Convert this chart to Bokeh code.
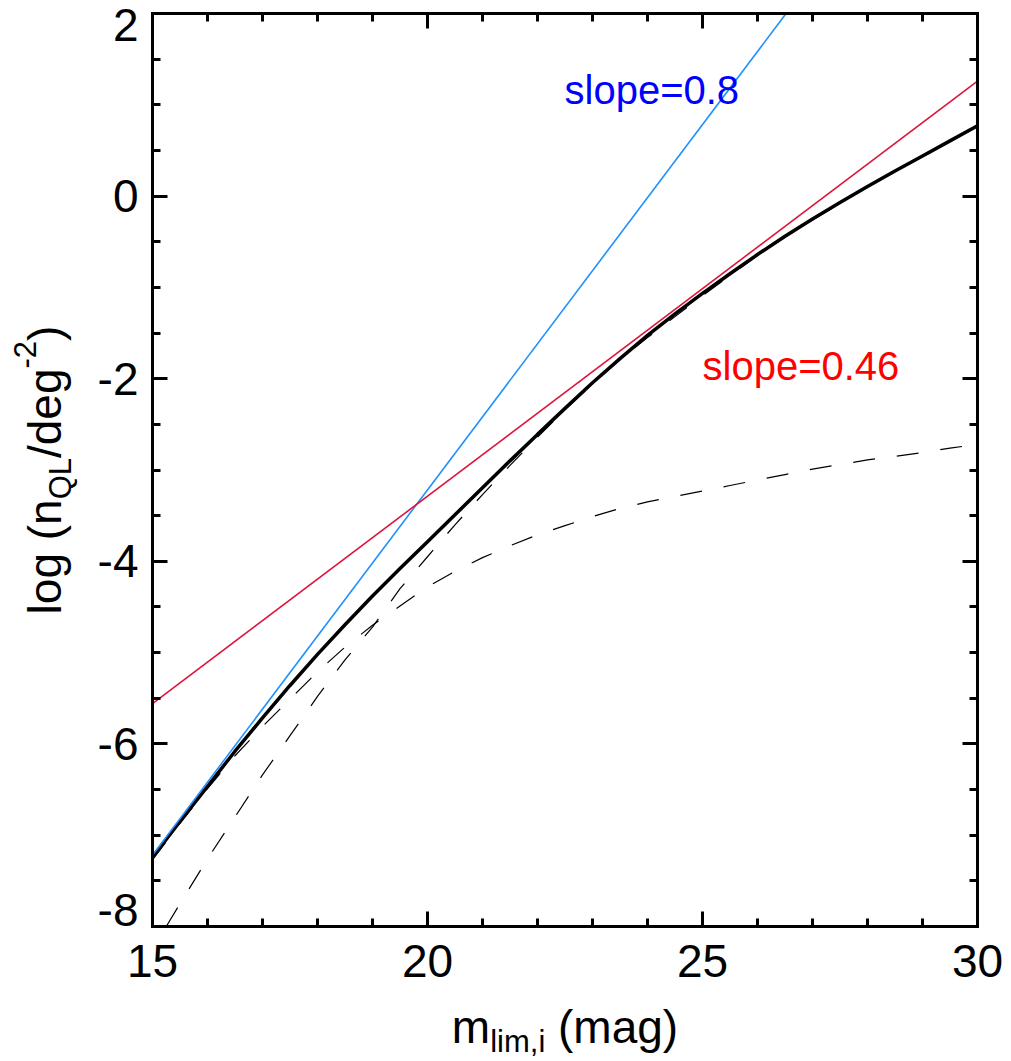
import math
from bokeh.plotting import figure
from bokeh.models import Range1d, SingleIntervalTicker, LinearAxis, Label, CustomJSTickFormatter
from bokeh.embed import file_html
from bokeh.resources import INLINE

# ---------------- data ----------------
m_total = [15.0, 15.5, 16.0, 16.5, 17.0, 17.5, 18.0, 18.5, 19.0, 19.5, 20.0,
           20.5, 21.0, 21.5, 22.0, 22.5, 23.0, 23.5, 24.0, 24.5, 25.0,
           25.5, 26.0, 26.5, 27.0, 27.5, 28.0, 28.5, 29.0, 29.5, 30.0]
logn_total = [-7.24, -6.85, -6.465, -6.08, -5.715, -5.36, -5.02, -4.695, -4.38, -4.08, -3.785,
              -3.49, -3.195, -2.90, -2.61, -2.325, -2.045, -1.78, -1.525, -1.29, -1.065,
              -0.85, -0.64, -0.44, -0.25, -0.07, 0.105, 0.275, 0.44, 0.605, 0.77]

m_comp1 = [15.25, 15.5, 16.0, 16.5, 17.0, 17.5, 18.0, 18.5, 19.0, 19.5, 20.0,
           20.5, 21.0, 21.5, 22.0, 22.5, 23.0, 23.5, 24.0, 24.5, 25.0,
           25.5, 26.0, 26.5, 27.0, 27.5, 28.0, 28.5, 29.0, 29.5, 30.0]
logn_comp1 = [-8.0, -7.75, -7.26, -6.80, -6.34, -5.91, -5.48, -5.08, -4.72, -4.30, -3.95,
              -3.60, -3.27, -2.95, -2.64, -2.34, -2.06, -1.79, -1.55, -1.32, -1.09,
              -0.87, -0.65, -0.45, -0.26, -0.08, 0.10, 0.27, 0.43, 0.60, 0.76]

m_comp2 = [15.0, 15.5, 16.0, 16.5, 17.0, 17.5, 18.0, 18.5, 19.0, 19.5, 20.0,
           20.5, 21.0, 21.5, 22.0, 22.5, 23.0, 23.5, 24.0, 24.5, 25.0,
           25.5, 26.0, 26.5, 27.0, 27.5, 28.0, 28.5, 29.0, 29.5, 30.0]
logn_comp2 = [-7.27, -6.87, -6.49, -6.13, -5.81, -5.51, -5.21, -4.94, -4.70, -4.49, -4.28,
              -4.11, -3.96, -3.83, -3.71, -3.61, -3.51, -3.42, -3.35, -3.29, -3.23,
              -3.17, -3.11, -3.05, -2.99, -2.94, -2.89, -2.85, -2.81, -2.76, -2.72]

slope08_m = [15.0, 26.52]
slope08_logn = [-7.22, 2.0]
slope046_m = [15.0, 30.0]
slope046_logn = [-5.56, 1.26]

x_ticks_interval = 5
y_ticks_interval = 2
x_limits = (15, 30)
y_limits = (-8, 2)
y_tick_labels = {0: "0", -2: "-2", -4: "-4", -6: "-6", 2: "", -8: ""}

# ---------------- layout (canvas pixels) ----------------
W, H = 1011, 1061
BL, BR, BT, BB = 152, 34, 13, 135          # axis box edges inside the canvas
FW, FH = W - BL - BR, H - BT - BB
SX = FW / (x_limits[1] - x_limits[0])      # px per mag
SY = FH / (y_limits[1] - y_limits[0])      # px per dex
X0 = x_limits[0] - BL / SX
X1 = x_limits[1] + BR / SX
Y1 = y_limits[1] + BT / SY
Y0 = y_limits[0] - BB / SY
FONT = "Liberation Sans"
BASE_SHIFT = 0.38   # label anchor -> visual baseline correction (fraction of font size)

def px2x(px):
    return X0 + px / SX

def py2y(py):
    return Y1 - py / SY

p = figure(width=W, height=H, x_range=Range1d(X0, X1), y_range=Range1d(Y0, Y1),
           output_backend="svg", toolbar_location=None,
           x_axis_location=None, y_axis_location=None, min_border=0,
           min_border_left=0, min_border_right=0, min_border_top=0, min_border_bottom=0)
p.grid.visible = False
p.outline_line_color = None
p.background_fill_color = "white"
p.border_fill_color = "white"

def make_axis(interval, minors, loc, bounds, labels=True):
    ax = LinearAxis(ticker=SingleIntervalTicker(interval=interval, num_minor_ticks=minors),
                    fixed_location=loc, bounds=bounds)
    ax.axis_line_width = 3
    ax.axis_line_cap = "square"
    ax.major_tick_line_width = 3
    ax.minor_tick_line_width = 3
    ax.major_tick_in = 15
    ax.major_tick_out = 0
    ax.minor_tick_in = 8
    ax.minor_tick_out = 0
    if labels:
        ax.major_label_text_font = FONT
        ax.major_label_text_font_size = "46px"
        ax.major_label_text_color = "black"
    else:
        ax.formatter = CustomJSTickFormatter(code="return ''")
        ax.major_label_text_font_size = "0px"
        ax.major_label_standoff = 0
    return ax

xb = make_axis(x_ticks_interval, 5, y_limits[0], x_limits)
xb.major_label_standoff = 18
xt = make_axis(x_ticks_interval, 5, y_limits[1], x_limits, labels=False)
yl = make_axis(y_ticks_interval, 4, x_limits[0], y_limits)
yl.major_label_standoff = 14
yl.major_label_overrides = y_tick_labels
yr = make_axis(y_ticks_interval, 4, x_limits[1], y_limits, labels=False)
p.add_layout(xb, "below")
p.add_layout(xt, "above")
p.add_layout(yl, "left")
p.add_layout(yr, "right")

def hlabel(px, base_py, text, size, color="black", align="left"):
    p.add_layout(Label(x=px2x(px), y=py2y(base_py - BASE_SHIFT * size), text=text,
                       text_align=align, text_baseline="alphabetic", text_font=FONT,
                       text_font_size=f"{size}px", text_color=color))

def vlabel(base_px, py, text, size, color="black"):
    p.add_layout(Label(x=px2x(base_px - BASE_SHIFT * size), y=py2y(py), text=text,
                       text_align="left", text_baseline="alphabetic", text_font=FONT,
                       text_font_size=f"{size}px", text_color=color, angle=math.pi / 2))

# end tick labels of the y axis, kept inside the axis span as in the reference
hlabel(BL - 14, 42, "2", 46, align="right")
hlabel(BL - 14, 927, "-8", 46, align="right")

# ---------------- curves ----------------
p.line(m_comp1, logn_comp1, line_color="black", line_width=1.2, line_dash="22 22")
p.line(m_comp2, logn_comp2, line_color="black", line_width=1.2, line_dash="22 22")
p.line(m_total, logn_total, line_color="black", line_width=3.5)
p.line(slope08_m, slope08_logn, line_color="#1e90ff", line_width=1.6)
p.line(slope046_m, slope046_logn, line_color="#dc143c", line_width=1.6)

hlabel(564, 105, "slope=0.8", 40, color="#0000ff")
hlabel(702, 381, "slope=0.46", 40, color="#ff0000")

# ---------------- axis titles built from pieces (sub/superscripts) ----------------
AW = {'l': 222, 'o': 556, 'g': 556, ' ': 278, '(': 333, ')': 333, 'n': 556, 'Q': 778,
      'L': 556, '/': 278, 'd': 556, 'e': 556, '-': 333, '2': 556, 'm': 833, 'i': 222,
      ',': 278, 'a': 556}

def tw(s, size):
    return sum(AW[c] for c in s) / 1000.0 * size

E = 46
S = 31

# x title: m_{lim,i} (mag)   -- (text, size, baseline shift, advance after)
xsegs = [("m", E, 0, 0), ("lim,i", S, 9, tw(" ", E)), ("(mag)", E, 0, 0)]
xtot = sum(tw(t, s) + a for t, s, _, a in xsegs)
cx = BL + FW / 2
px = cx - xtot / 2
base = 1044
for t, s, dy, a in xsegs:
    hlabel(px, base + dy, t, s)
    px += tw(t, s) + a

# y title: log (n_{QL}/deg^{-2})
ysegs = [("log", E, 0, tw(" ", E)), ("(n", E, 0, 0), ("QL", S, 10, 0), ("/deg", E, 0, 0),
         ("-2", S, -26, 0), (")", E, 0, 0)]
ytot = sum(tw(t, s) + a for t, s, _, a in ysegs)
cy = BT + FH / 2
py = cy + ytot / 2
basex = 62
for t, s, dx, a in ysegs:
    vlabel(basex + dx, py, t, s)
    py -= tw(t, s) + a

open("out.html", "w").write(file_html(p, INLINE))
